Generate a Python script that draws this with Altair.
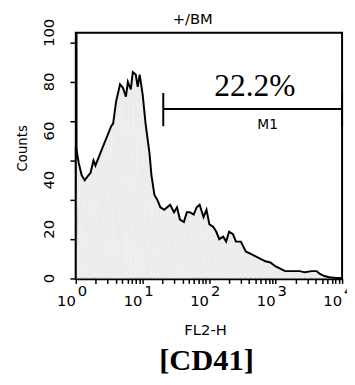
import altair as alt
import pandas as pd

# FL2-H channel values (log axis) and histogram counts
fl2h = [1.0, 1.0, 1.107, 1.226, 1.358, 1.504, 1.665, 1.844, 1.973, 2.185, 2.42,
        2.772, 3.069, 3.4, 3.638, 4.029, 4.615, 5.111, 5.66, 6.058, 6.708, 7.18,
        7.95, 8.51, 9.108, 10.09, 11.17, 12.79, 13.69, 15.17, 16.8, 18.6, 21.3,
        23.59, 26.12, 29.92, 33.14, 36.7, 42.03, 46.55, 51.55, 59.04, 65.38, 72.4,
        82.94, 91.85, 101.7, 116.5, 129.0, 142.9, 163.7, 181.3, 200.8, 229.9,
        254.6, 301.8, 357.7, 423.9, 502.5, 595.6, 705.9, 836.6, 991.5, 1175,
        1393, 1956, 2319, 2749, 3486, 4132, 4576, 5424, 6428, 7619, 10000]
counts = [0, 54, 47, 42, 40, 41.6, 43, 48, 46, 49, 52,
          56, 59, 62, 63, 72, 79, 77.6, 74, 80, 77, 84,
          83, 78, 83, 75, 63, 51, 42, 34, 32, 29, 28,
          29, 30, 27, 29, 24, 23, 27, 27, 26, 29, 30,
          25, 28, 22, 21, 19, 16, 17, 15, 19, 18,
          15, 15, 11, 10, 9, 8, 7, 6.5, 5, 4,
          3, 3, 3, 2.5, 3, 3, 2, 1, 0.5, 0.3, 0]

# axis tick values / labels
x_minor = [m * 10 ** k for k in range(4) for m in range(1, 10)] + [10000]
y_ticks = list(range(0, 101, 4))
tick_pos = [1, 10, 100, 1000, 10000]
tick_base = ["10", "10", "10", "10", "10"]
tick_exp = ["0", "1", "2", "3", "4"]
y_label_vals = [0, 20, 40, 60, 80, 100]
y_label_text = ["0", "20", "40", "60", "80", "100"]

# marker M1
m1_start = 20.6
m1_end = 10000
m1_level = 69
m1_low = 62
m1_high = 75.5

df = pd.DataFrame({"fl2h": fl2h, "counts": counts, "idx": list(range(len(fl2h)))})

xs = alt.Scale(type="log", domain=[1, 10000], nice=False)
ys = alt.Scale(domain=[0, 100], nice=False)

x_axis = alt.Axis(values=x_minor, labels=False, tickSize=5, tickColor="black",
                  tickWidth=1.5, domainColor="black", domainWidth=2.5, grid=False)
y_axis = alt.Axis(values=y_ticks, labels=False, tickSize=6, tickColor="black",
                  tickWidth=1.5, domainColor="black", domainWidth=2.5, grid=False)

base = alt.Chart(df)
area = base.mark_area(color="#ececec", interpolate="linear").encode(
    x=alt.X("fl2h:Q", scale=xs, axis=x_axis, title=None),
    y=alt.Y("counts:Q", scale=ys, axis=y_axis, title=None),
    order="idx:Q",
)
line = base.mark_line(color="black", strokeWidth=2).encode(
    x=alt.X("fl2h:Q", scale=xs),
    y=alt.Y("counts:Q", scale=ys),
    order="idx:Q",
)

mk = pd.DataFrame({"x": [m1_start], "x2": [m1_end], "y": [m1_level]})
hline = alt.Chart(mk).mark_rule(color="black", strokeWidth=2).encode(
    x=alt.X("x:Q", scale=xs), x2="x2:Q", y=alt.Y("y:Q", scale=ys))
vt = pd.DataFrame({"x": [m1_start, m1_end], "y": [m1_low, m1_low], "y2": [m1_high, m1_high]})
vlines = alt.Chart(vt).mark_rule(color="black", strokeWidth=2).encode(
    x=alt.X("x:Q", scale=xs), y=alt.Y("y:Q", scale=ys), y2="y2:Q")

def label(text, x, y, font, size, weight="normal", angle=0):
    d = pd.DataFrame({"x": [x], "y": [y], "t": [text]})
    return alt.Chart(d).mark_text(font=font, fontSize=size, fontWeight=weight,
                                  color="black", baseline="middle", align="center",
                                  angle=angle).encode(
        x=alt.X("x:Q", scale=xs), y=alt.Y("y:Q", scale=ys), text="t:N")

t_title = label("+/BM", 57, 105.6, "DejaVu Sans", 15)
t_pct = label("22.2%", 490, 78.4, "Liberation Serif", 32)
t_m1 = label("M1", 760, 62.6, "DejaVu Sans", 14)
t_fl = label("FL2-H", 89, -21.2, "DejaVu Sans", 15)
t_cd = label("[CD41]", 91.9, -33.8, "Liberation Serif", 31, weight="bold")
t_counts = label("Counts", 0.154, 53, "DejaVu Sans Condensed", 15, angle=270)

yl = pd.DataFrame({"y": y_label_vals, "t": y_label_text, "x": [0.40] * 6})
t_ylab = alt.Chart(yl).mark_text(font="DejaVu Sans", fontSize=15, color="black",
                                 align="center", baseline="middle", angle=270).encode(
    x=alt.X("x:Q", scale=xs), y=alt.Y("y:Q", scale=ys), text="t:N")

tl = pd.DataFrame({"x": tick_pos, "b": tick_base, "e": tick_exp,
                   "yb": [-9] * 5, "ye": [-5] * 5})
t_base = alt.Chart(tl).mark_text(font="DejaVu Sans", fontSize=15, color="black",
                                 align="right", baseline="middle").encode(
    x=alt.X("x:Q", scale=xs), y=alt.Y("yb:Q", scale=ys), text="b:N")
t_exp = alt.Chart(tl).mark_text(font="DejaVu Sans", fontSize=15, color="black",
                                align="left", baseline="middle", dx=2).encode(
    x=alt.X("x:Q", scale=xs), y=alt.Y("ye:Q", scale=ys), text="e:N")

chart = alt.layer(area, line, hline, vlines, t_title, t_pct, t_m1, t_fl, t_cd,
                  t_counts, t_ylab, t_base, t_exp).properties(
    width=271, height=250,
    autosize=alt.AutoSizeParams(type="none"),
    padding={"left": 69, "top": 22, "right": 5, "bottom": 97},
    background="white",
).configure_view(stroke="black", strokeWidth=2)

chart.save("out.html", embed_options={"renderer": "svg", "actions": False})
